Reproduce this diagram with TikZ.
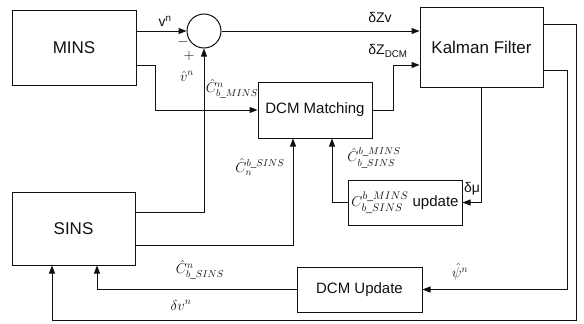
\documentclass[tikz,border=0pt]{standalone}
\usepackage{amsmath}
\usepackage{fontspec}
\setmainfont{Liberation Sans}
\usetikzlibrary{arrows.meta,positioning,calc}
\definecolor{dcmInk}{HTML}{111111}
\tikzset{
    >={Triangle[length=8pt,width=6pt]},
    block/.style={draw=dcmInk, line width=1pt, align=center, inner sep=0pt, text=dcmInk, font=\fontsize{15}{18}\selectfont},
    bigblock/.style={block, font=\fontsize{17}{20}\selectfont},
    sumnode/.style={circle, draw=dcmInk, line width=1pt, minimum size=34pt, inner sep=0pt},
    arrow/.style={->, line width=1pt, draw=dcmInk},
    lbl/.style={font=\fontsize{14}{16}\selectfont, inner sep=0pt, text=dcmInk}
}
\begin{document}
\begin{tikzpicture}[x=1pt,y=-1pt]
\useasboundingbox (0,0) rectangle (584,324);
% blocks
\node[bigblock, minimum width=124pt, minimum height=75pt] (mins) at (74,47.5) {MINS};
\node[bigblock, minimum width=123pt, minimum height=73pt] (sins) at (73.5,228.5) {SINS};
\node[sumnode] (sum) at (204,31) {};
\node[block, minimum width=114pt, minimum height=56pt] (dcmm) at (315,110) {DCM Matching};
\node[bigblock, minimum width=123pt, minimum height=80pt] (kf) at (481.5,47) {Kalman Filter};
\node[block, minimum width=114pt, minimum height=45pt] (cup) at (405,202.5) {$C^{b\_MINS}_{b\_SINS}$ update};
\node[block, minimum width=125pt, minimum height=45pt] (dcmu) at (359.5,289.5) {DCM Update};
\coordinate (fb) at (52,320);

% connectors
\draw[arrow] (mins.east |- sum.west) -- (sum.west);
\draw[arrow] ([yshift=-17.5pt]mins.east) -- ++(19,0) |- (dcmm.west);
\draw[arrow] ([yshift=16.5pt]sins.east) -| (sum.south);
\draw[arrow] ([yshift=-16.5pt]sins.east) -| ([xshift=-22pt]dcmm.south);
\draw[arrow] (cup.west) -| ([xshift=17pt]dcmm.south);
\draw[arrow] (sum.east) -- (sum.east -| kf.west);
\draw[arrow] (dcmm.east) -- ++(21,0) |- ([yshift=-18pt]kf.west);
\draw[arrow] (kf.south) |- (cup.east);
\draw[arrow] ([yshift=-23pt]kf.east) -- ++(24,0) |- (dcmu.east);
\draw[arrow] ([yshift=23pt]kf.east) -- ++(33,0) |- (fb) -- ([xshift=-21.5pt]sins.south);
\draw[arrow] (dcmu.west) -| ([xshift=23.5pt]sins.south);

% labels
\node[lbl] (vn) at (165,21) {v\textsuperscript{n}};
\node[lbl] (minus) at (183,42) {$-$};
\node[lbl] (plus) at (189,56) {$+$};
\node[lbl] (vhat) at (187,76) {$\hat{v}^n$};
\node[lbl] (cmins) at (232,89) {$\hat{C}^{n}_{b\_MINS}$};
\node[lbl] (csins) at (260,167) {$\hat{C}^{b\_SINS}_{n}$};
\node[lbl] (cms) at (374,158) {$\hat{C}^{b\_MINS}_{b\_SINS}$};
\node[lbl] (dzv) at (380,17) {δZv};
\node[lbl] (dzdcm) at (388,51) {δZ\textsubscript{DCM}};
\node[lbl] (dmu) at (472,189) {δμ};
\node[lbl] (psi) at (460,272) {$\hat{\psi}^n$};
\node[lbl] (cnb) at (200,270) {$\hat{C}^{n}_{b\_SINS}$};
\node[lbl] (dvn) at (181,305) {$\delta v^n$};
\end{tikzpicture}
\end{document}
